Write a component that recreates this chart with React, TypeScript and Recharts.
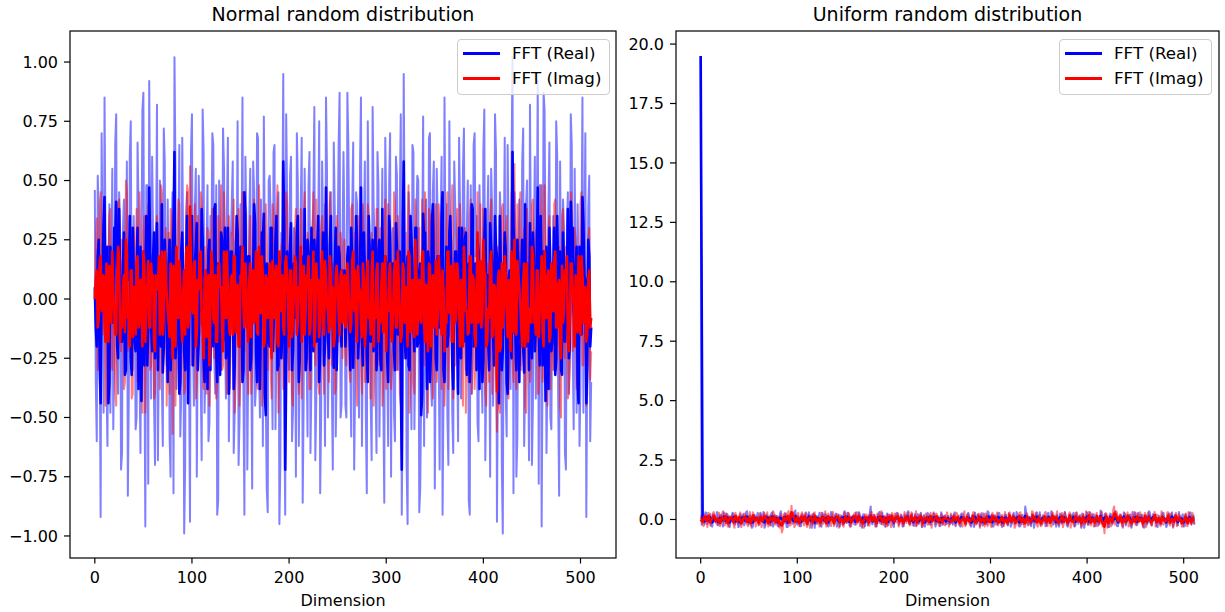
import { LineChart, Line, XAxis, YAxis, Legend } from "recharts";

const FONT = '"DejaVu Sans", sans-serif';

// FFT values, in hundredths.
// *_EVEN: dimensions 0, 2, ..., 510   *_ODD: dimensions 1, 3, ..., 511
const NORMAL_REAL_SAMPLE_EVEN = `
46 -60 38 -92 20 85 -35 12 -48 55 -22 78 -40 30 -65 42 5 -83 60 -18 35 -55 66 -30 15 87 -96 48 92 -42
25 -70 82 -15 40 -62 58 -28 10 -75 45 102 -38 22 -58 68 -99 34 -20 -94 78 -45 55 -12 30 -68 62 -25 48 -52
18 65 -40 -91 50 -30 72 -15 38 -60 25 58 -48 12 -70 40 85 -91 30 -22 55 -80 45 -35 68 -50 20 77 -40 -90
52 -18 62 -55 35 -95 28 95 -91 42 -30 60 -48 15 70 -62 38 -86 55 -20 48 -65 25 81 -42 30 -82 58 -15 85
-50 40 -35 66 -58 22 87 -45 62
-45 87 22 -58 66 -35 40 -50 85 -15 58 -82 30 -42 81 25 -65 48 -20 55 -86 38 -62 70 15 -48 60 -30 42 -91
95 28 -95 35 -55 62 -18 52 -90 -40 77 20 -50 68 -35 45 -80 55 -22 30 -91 85 40 -70 12 -48 58 25 -60 38
-15 72 -30 50 -91 -40 65 18 -52 48 -25 62 -68 30 -12 55 -45 78 -94 -20 34 -99 68 -58 22 -38 102 45 -75 10
-28 58 -62 40 -15 82 -70 25 -42 92 48 -96 87 15 -30 66 -55 35 -18 60 -83 5 42 -65 30 -40 78 -22 55 -48
12 -35 85 20 -92 38 -60`;

const NORMAL_REAL_SAMPLE_ODD = `
-35 52 -18 70 -48 22 -62 40 8 -55 65 -25 45 -72 30 -10 58 -40 75 -30 12 -50 38 -65 80 -20 48 -78 25 60
-45 15 -68 50 -35 72 -12 42 -58 28 -82 55 -22 65 -40 18 -70 45 -28 62 -15 38 -75 52 -32 80 -48 20 -60 35
70 -25 48 -85 30 -10 55 -42 68 -20 40 -65 25 75 -50 15 -38 60 -72 32 -18 58 -45 70 -28 42 -62 20 -80 50
35 -55 65 -22 45 -70 28 -40 78 -15 52 -60 30 -75 48 -25 68 -42 18 -58 62 -35 40 -68 22 75 -48 30 -62 55
-20 45 -72 38 -30 65 -50 25
25 -50 65 -30 38 -72 45 -20 55 -62 30 -48 75 22 -68 40 -35 62 -58 18 -42 68 -25 48 -75 30 -60 52
-15 78 -40 28 -70 45 -22 65 -55 35 50 -80 20 -62 42 -28 70 -45 58 -18 32 -72 60 -38 15 -50 75 25 -65 40
-20 68 -42 55 -10 30 -85 48 -25 70 35 -60 20 -48 80 -32 52 -75 38 -15 62 -28 45 -70 18 -40 65 -22 55 -82
28 -58 42 -12 72 -35 50 -68 15 -45 60 25 -78 48 -20 80 -65 38 -50 12 -30 75 -40 58 -10 30 -72 45 -25 65
-55 8 40 -62 22 -48 70 -18 52 -35`;

const NORMAL_REAL_EVEN = `
5 -20 25 -44 10 43 -15 -44 22 -10 30 41 -25 8 -18 28 -30 15 35 -32 12 -22 30 -8 -43 20 5 -28 47 -12
18 -25 32 10 -20 -31 25 -5 15 -30 20 62 -18 8 -35 28 -22 12 -44 18 35 -15 22 -30 10 38 -25 5 -38 25
15 -20 40 -35 12 28 -18 30 -10 -40 20 8 -28 35 -15 22 -35 45 -8 18 -30 10 40 -22 15 -38 28 36 -49 12
-20 30 -12 25 -30 18 -25 58 -72 20 -15 32 -22 10 28 -35 15 -10 38 -25 20 -30 8 25 -18 35 -22 12 -28 47
-15 22 -8 -29 30 -12 18 -20 10
-20 18 -12 30 -29 -8 22 -15 47 -28 12 -22 35 -18 25 8 -30 20 -25 38 -10 15 -35 28 10 -22 32 -15 20 -72
58 -25 18 -30 25 -12 30 -20 12 -49 36 28 -38 15 -22 40 10 -30 18 -8 45 -35 22 -15 35 -28 8 20 -40 -10
30 -18 28 12 -35 40 -20 15 25 -38 5 -25 38 10 -30 22 -15 35 18 -44 12 -22 28 -35 8 -18 62 20 -30 15
-5 25 -31 -20 10 32 -25 18 -12 47 -28 5 20 -43 -8 30 -22 12 -32 35 15 -30 28 -18 8 -25 41 30 -10 22
-44 -15 43 10 -44 25 -20`;

const NORMAL_REAL_ODD = `
-12 18 -28 8 32 -15 22 -35 12 -5 25 -20 38 -10 15 -32 20 8 -25 30 -18 10 -38 22 5 -28 35 -12 18 -22
28 -8 -30 15 40 -20 10 -35 25 -15 30 -25 12 -40 20 8 -30 35 -10 22 -28 15 32 -18 -5 25 -35 12 20 -30
10 38 -22 15 -32 25 -8 -25 30 -15 20 -38 12 28 -20 5 -30 35 -12 18 -25 10 32 -35 20 -8 25 -40 15 -18
30 -22 8 35 -28 12 -15 28 -32 10 22 -30 15 -8 35 -25 18 -12 -30 25 -15 30 -22 10 20 -35 12 28 -18 8
-25 35 -10 15 -30 22 -8 12
12 -8 22 -30 15 -10 35 -25 8 -18 28 12 -35 20 10 -22 30 -15 25 -30 -12 18 -25 35 -8 15 -30 22
10 -32 28 -15 12 -28 35 8 -22 30 -18 15 -40 25 -8 20 -35 32 10 -25 18 -12 35 -30 5 -20 28 12 -38 20
-15 30 -25 -8 25 -32 15 -22 38 10 -30 20 12 -35 25 -5 -18 32 15 -28 22 -10 35 -30 8 20 -40 12 -25 30
-15 25 -35 10 -20 40 15 -30 -8 28 -22 18 -12 35 -28 5 22 -38 10 -18 30 -25 8 20 -32 15 -10 38 -20 25
-5 12 -35 22 -15 32 8 -28 18 -12`;

const NORMAL_IMAG_SAMPLE_EVEN = `
0 34 -25 45 -15 28 -40 12 38 -30 22 -45 40 -10 25 -38 50 -22 15 -42 30 10 -35 45 -18 28 -48 22 40 -28
12 -40 35 -15 48 -30 18 -45 28 38 -57 25 -12 42 -35 15 -40 30 45 56 -28 22 -42 35 -15 40 -38 10 30 -45
25 -18 40 -35 15 48 -28 22 -40 35 -12 28 -48 18 38 -30 45 -22 12 -40 35 -25 42 -10 -38 28 -45 22 40 -30
15 -42 35 -18 48 -28 22 -38 30 40 -35 12 -45 28 18 -40 38 -15 45 -30 22 -38 28 -12 42 -35 15 35 -40 25
-22 45 -28 12 -38 30 -18 22 0
-22 18 -30 38 -12 28 -45 22 -25 40 -35 -15 35 -42 12 -28 38 -22 30 -45 15 -38 40 -18 -28 45 -12 35
-40 -30 38 -22 28 -48 18 -35 42 -15 30 -40 -22 45 -28 38 10 -42 25 -35 40 -12 22 -45 30 -38 -18 48 -28 12
-35 40 -22 28 -48 -15 35 -40 18 -25 45 -30 -10 38 -40 15 -35 42 -22 28 -56 -45 -30 40 -15 35 -42 12 -25 57
-38 -28 45 -18 30 -48 15 -35 40 -12 28 -40 -22 48 -28 18 -45 35 -10 -30 42 -15 22 -50 38 -25 10 -40 45 -22
30 -38 -12 40 -28 15 -45 25 -34`;

const NORMAL_IMAG_SAMPLE_ODD = `
22 -30 40 -12 28 -45 18 35 -25 10 -38 25 42 -22 12 -35 45 -15 30 -40 15 38 -28 22 -48 35 -10 40 -30 18
-42 28 12 -38 45 -22 30 -15 -40 25 35 -45 18 40 -28 10 -38 48 -22 30 -18 40 -35 12 45 -30 22 -40 28 -12
38 -25 -42 35 15 -30 45 -22 10 -38 28 42 -35 18 -45 25 -12 38 -28 22 -40 30 15 -35 48 -18 28 -42 22 12
-30 40 -22 35 -48 15 25 -38 45 -15 30 -40 18 38 -25 10 -42 35 -18 28 -38 22 45 -28 12 -40 30 -22 40 -10
-35 25 15 -40 35 -18 28 -25
25 -28 18 -35 40 -15 -25 35 10 -40 22 -30 40 -12 28 -45 -22 38 -28 18 -35 42 -10 25 -38 -18 40 -30
15 -45 38 -25 -15 48 -35 22 -40 30 -12 -22 42 -28 18 -48 35 -15 -30 40 -22 28 -38 12 -25 45 -18 35 -42 -28
38 -10 22 -45 30 -15 -35 42 25 -38 12 -28 40 -22 30 -45 -12 35 -40 18 -30 22 -48 38 -10 28 -40 -18 45 -35
-25 40 15 -30 22 -45 38 -12 -28 42 -18 30 -40 10 -35 48 -22 28 -38 -15 40 -30 15 -45 35 -12 22 -42 -25 38
-10 25 -35 -18 45 -28 12 -40 30 -22`;

const NORMAL_IMAG_EVEN = `
0 12 -8 18 5 -10 15 -18 8 20 -5 -15 22 -18 -12 10 25 -8 -20 12 5 -15 18 -10 8 20 -18 5 -12 15
10 -22 8 18 -5 -15 20 2 -10 15 -25 10 22 -8 5 -18 12 20 -12 39 -5 15 -20 8 18 -10 -25 12 5 -28
20 -8 10 -18 15 5 -22 12 20 -10 8 -15 18 -5 -20 10 22 -12 5 -18 15 8 -10 20 -15 3 18 -20 10 -8
15 -25 12 5 -18 20 -5 -12 15 8 -20 12 -10 18 -15 5 22 -8 -15 10 18 -12 5 -20 15 8 -10 20 -15 10
-5 18 -12 -20 10 5 -15 12 0
-12 15 -5 -10 20 12 -18 5 -10 15 -20 10 -8 -15 20 -5 12 -18 -10 15 8 -22 -5 15 -18 10 -12 20 -8 -15
12 5 -20 18 -5 -12 25 -15 8 -10 20 -18 -3 15 -20 10 -8 -15 18 -5 12 -22 -10 20 5 -18 15 -8 10 -20
-12 22 -5 -15 18 -10 8 -20 28 -5 -12 25 10 -18 -8 20 -15 5 -39 12 -20 -12 18 -5 8 -22 -10 25 -15 10
-2 -20 15 5 -18 -8 22 -10 -15 12 -5 18 -20 -8 10 -18 15 -5 20 -12 8 -25 -10 12 18 -22 15 5 -20 -8
18 -15 10 -5 -18 8 -12`;

const NORMAL_IMAG_ODD = `
8 -12 15 -5 10 -18 6 14 -10 3 -15 10 18 -8 5 -14 20 -6 12 -16 5 15 -12 8 -20 14 -3 16 -12 6
-18 10 4 -15 20 -8 12 -5 -16 10 14 -20 6 16 -10 3 -15 22 -8 12 -6 16 -14 4 20 -12 8 -16 10 -4
15 -10 -18 14 5 -12 20 -8 3 -15 10 18 -14 6 -20 10 -4 15 -10 8 -16 12 5 -14 22 -6 10 -18 8 4
-12 16 -8 14 -20 5 10 -15 18 -5 12 -16 6 15 -10 3 -18 14 -6 10 -15 8 20 -10 4 -16 12 -8 16 -3
-14 10 5 -16 14 -6 10 -10
10 -10 6 -14 16 -5 -10 14 3 -16 8 -12 16 -4 10 -20 -8 15 -10 6 -14 18 -3 10 -15 -6 16 -12
5 -18 15 -10 -5 20 -14 8 -16 12 -4 -8 18 -10 6 -22 14 -5 -12 16 -8 10 -15 4 -10 20 -6 14 -18 -10
15 -3 8 -20 12 -5 -14 18 10 -15 4 -10 16 -8 12 -20 -4 14 -16 6 -12 8 -22 15 -3 10 -16 -6 20 -14
-10 16 5 -12 8 -20 15 -4 -10 18 -6 12 -16 3 -14 20 -8 12 -15 -5 16 -12 6 -20 14 -5 8 -18 -10 15
-3 10 -14 -6 18 -10 5 -15 12 -8`;

const UNIFORM_REAL_SAMPLE_EVEN = `
1950 15 -20 28 -10 22 -30 12 5 -25 18 -8 30 -15 20 -32 10 25 -18 8 -28 15 22 -12 35 -20 5 -30 18 10
-22 28 -8 -35 20 12 -25 30 -10 15 -28 22 8 -18 25 -32 12 20 -15 38 -22 5 -28 18 10 -20 30 -12 22 -35
15 8 -25 28 -10 18 -30 12 20 -18 25 -8 -30 15 22 -12 28 -25 10 18 -22 5 30 -15 20 -28 12 8 55 -20
15 -30 22 -10 28 -18 12 -25 20 8 -32 15 25 -12 18 -28 10 30 -20 5 -25 22 12 -18 28 -10 -30 15 20 -22
8 25 -15 10 -28 18 12 -20 15
-20 12 18 -28 10 -15 25 8 -22 20 15 -30 -10 28 -18 12 22 -25 5 -20 30 10 -28 18 -12 25 15 -32 8 20
-25 12 -18 28 -10 22 -30 15 -20 55 8 12 -28 20 -15 30 5 -22 18 10 -25 28 -12 22 15 -30 -8 25 -18 20
12 -30 18 -10 28 -25 8 15 -35 22 -12 30 -20 10 18 -28 5 -22 38 -15 20 12 -32 25 -18 8 22 -28 15 -10
30 -25 12 20 -35 -8 28 -22 10 18 -30 5 -20 35 -12 22 15 -28 8 -18 25 10 -32 20 -15 30 -8 18 -25 5
12 -30 22 -10 28 -20 15`;

const UNIFORM_REAL_SAMPLE_ODD = `
-22 15 30 -18 8 -28 22 -10 32 -15 20 -30 12 25 -22 -8 28 -20 15 -32 22 10 -25 30 -12 18 -35 20 -5 28
-20 12 32 -25 15 -10 25 -30 18 8 -28 35 -15 20 -32 10 25 -18 30 -12 15 -28 22 -8 30 -22 12 -35 25 10
-18 28 -30 15 22 -12 -25 32 -10 18 -30 20 8 -22 35 -15 25 -28 12 -20 30 -12 18 -35 22 10 -25 28 -15 20
-28 15 32 -20 8 -30 25 -12 18 -25 12 28 -22 15 -30 20 -8 35 -18 25 -12 -28 22 10 -32 18 -15 28 -20 12
25 -30 15 -10 30 -22 18 -15
-15 18 -22 30 -10 15 -30 25 12 -20 28 -15 18 -32 10 22 -28 -12 25 -18 35 -8 20 -30 15 -22 28 12
-25 18 -12 25 -30 8 -20 32 15 -28 20 -15 28 -25 10 22 -35 18 -12 30 -20 12 -28 25 -15 35 -22 8 20 -30
18 -10 32 -25 -12 22 15 -30 28 -18 10 25 -35 12 -22 30 -8 22 -28 15 -12 30 -18 25 10 -32 20 -15 35 -28
8 18 -30 25 -10 15 -25 32 12 -20 28 -5 20 -35 18 -12 30 -25 10 22 -32 15 -20 28 -8 -22 25 12 -30 20
-15 32 -10 22 -28 8 -18 30 15 -22`;

const UNIFORM_REAL_EVEN = `
1950 5 -8 10 -3 8 -12 4 2 -10 7 -4 12 -6 8 -12 3 10 -8 2 -10 6 9 -5 12 -8 2 -12 7 3
-9 10 -4 -12 8 5 -10 12 -3 6 -11 8 3 -7 10 -12 5 8 -6 14 -8 2 -10 7 4 -8 12 -5 9 -13
6 3 -10 11 -4 7 -12 5 8 -7 10 -3 -11 6 9 -5 11 -10 4 7 -9 2 12 -6 8 -11 5 3 15 -8
6 -12 9 -4 11 -7 5 -10 8 3 -12 6 10 -5 7 -11 4 12 -8 2 -10 9 5 -7 11 -4 -12 6 8 -9
3 10 -6 4 -11 7 5 -8 6
-8 5 7 -11 4 -6 10 3 -9 8 6 -12 -4 11 -7 5 9 -10 2 -8 12 4 -11 7 -5 10 6 -12 3 8
-10 5 -7 11 -4 9 -12 6 -8 15 3 5 -11 8 -6 12 2 -9 7 4 -10 11 -5 9 6 -11 -3 10 -7 8
5 -12 7 -4 11 -10 3 6 -13 9 -5 12 -8 4 7 -10 2 -8 14 -6 8 5 -12 10 -7 3 8 -11 6 -3
12 -10 5 8 -12 -4 10 -9 3 7 -12 2 -8 12 -5 9 6 -10 2 -8 10 3 -12 8 -6 12 -4 7 -10 2
4 -12 8 -3 10 -8 5`;

const UNIFORM_IMAG_SAMPLE_EVEN = `
0 -18 22 -10 28 -25 12 30 -15 8 -28 20 -5 25 -30 15 10 -22 28 -12 18 -32 8 22 -20 15 -28 30 -8 12
-25 20 -15 28 5 -30 18 -10 25 -22 12 -35 -55 20 -12 28 -25 58 30 -18 15 -28 22 -5 25 -32 10 18 -22 30
-15 8 -25 20 12 -30 25 -10 18 -28 15 22 -18 5 -30 25 -12 20 -25 10 28 -15 22 -8 -30 18 12 -25 30 -10
20 -28 8 25 -18 15 -30 22 -5 28 -20 12 25 -15 8 -28 20 15 -22 30 -10 18 -25 12 22 -30 8 15 -20 28
-12 5 25 -18 10 -22 15 8 0
-8 -15 22 -10 18 -25 -5 12 -28 20 -15 -8 30 -22 -12 25 -18 10 -30 22 -15 -20 28 -8 15 -25 -12 20 -28 5
-22 30 -15 18 -25 -8 28 -20 10 -30 25 -12 -18 30 8 -22 15 -28 -10 25 -20 12 -25 30 -5 18 -22 -15 28 -18
10 -25 30 -12 -20 25 -8 15 -30 22 -18 -10 32 -25 5 -22 28 -15 18 -30 -58 25 -28 12 -20 55 35 -12 22 -25
10 -18 30 -5 -28 15 -20 25 -12 8 -30 28 -15 20 -22 -8 32 -18 12 -28 22 -10 -15 30 -25 5 -20 28 -8 15
-30 -12 25 -28 10 -22 18`;

const UNIFORM_IMAG_SAMPLE_ODD = `
20 -28 12 -32 25 -15 30 -8 -22 28 -12 35 -25 18 -30 10 22 -35 15 -20 30 -18 25 -10 -28 32 -15 20 -30 12
25 -32 18 -22 30 -12 -25 35 -20 15 -30 22 -40 28 -18 35 -25 12 -32 20 28 -15 30 -25 -10 22 -35 18 25 -20
12 -30 28 -18 35 -22 10 -28 32 -15 22 -35 18 -25 30 -12 28 -32 15 25 -20 30 -28 12 -35 22 18 -25 32 -10
-30 25 -15 35 -22 12 -28 20 -32 18 25 -12 -30 22 -20 32 -15 28 -25 10 -28 35 -18 22 -30 15 25 -22 12 -35
30 -20 18 -28 22 -12 -25 30
-30 25 12 -22 28 -18 20 -30 35 -12 22 -25 -15 30 -22 18 -35 28 -10 25 -28 15 -32 20 -22 30 12 -25
-18 32 -20 28 -12 22 -35 15 -25 30 10 -32 25 -18 -22 35 -12 28 -30 20 -25 -15 32 -28 12 -30 25 -18 35 -22
15 -32 28 -10 22 -35 18 -28 30 -12 20 -25 -18 35 -22 10 25 -30 15 -28 -20 32 -12 25 -35 18 -28 40 -22 30
-15 20 -35 25 12 -30 22 -18 32 -25 -12 30 -20 15 -32 28 10 -25 18 -30 20 -15 35 -22 -10 30 -18 25 -35 12
-28 22 8 -30 15 -25 32 -12 28 -20`;

const UNIFORM_IMAG_EVEN = `
0 -10 12 -5 15 -12 6 16 -8 4 -15 10 -3 13 -16 8 5 -12 15 -6 10 -17 4 12 -10 8 -15 16 -4 6
-13 10 -8 15 3 -16 10 -5 13 -12 6 -18 -25 10 -6 15 -13 30 16 -10 8 -15 12 -3 13 -17 5 10 -12 16
-8 4 -13 10 6 -16 13 -5 10 -15 8 12 -10 3 -16 13 -6 10 -13 5 15 -8 12 -4 -16 10 6 -13 16 -5
10 -15 4 13 -10 8 -16 12 -3 15 -10 6 13 -8 4 -15 10 8 -12 16 -5 10 -13 6 12 -16 4 8 -10 15
-6 3 13 -10 5 -12 8 4 0
-4 -8 12 -5 10 -13 -3 6 -15 10 -8 -4 16 -12 -6 13 -10 5 -16 12 -8 -10 15 -4 8 -13 -6 10 -15 3
-12 16 -8 10 -13 -4 15 -10 5 -16 13 -6 -10 16 4 -12 8 -15 -5 13 -10 6 -13 16 -3 10 -12 -8 15 -10
5 -13 16 -6 -10 13 -4 8 -16 12 -10 -5 17 -13 3 -12 15 -8 10 -16 -30 13 -15 6 -10 25 18 -6 12 -13
5 -10 16 -3 -15 8 -10 13 -6 4 -16 15 -8 10 -12 -4 17 -10 6 -15 12 -5 -8 16 -13 3 -10 15 -4 8
-16 -6 12 -15 5 -12 10`;

const X_TICKS = [0, 100, 200, 300, 400, 500];
const NORMAL_Y_TICKS = [-1, -0.75, -0.5, -0.25, 0, 0.25, 0.5, 0.75, 1];
const UNIFORM_Y_TICKS = [0, 2.5, 5, 7.5, 10, 12.5, 15, 17.5, 20];
const LEGEND_ORDER = ["FFT (Real)", "FFT (Imag)"];

const hundredths = (s: string) => s.trim().split(/\s+/).map((v) => Number(v) / 100);

// realSample, imagSample, real, imag
type Series = [string, string, string, string];
type MaybeSeries = [string | null, string | null, string | null, string | null];

function buildRows(even: Series, odd?: MaybeSeries) {
  const ev = even.map(hundredths);
  const od = odd ? odd.map((s) => (s ? hundredths(s) : null)) : null;
  const rows: any[] = [];
  ev[0].forEach((_, i) => {
    rows.push({ dim: i * 2, realSample: ev[0][i], imagSample: ev[1][i], real: ev[2][i], imag: ev[3][i] });
    if (od) {
      rows.push({
        dim: i * 2 + 1,
        realSample: od[0]?.[i],
        imagSample: od[1]?.[i],
        real: od[2]?.[i],
        imag: od[3]?.[i],
      });
    }
  });
  return rows;
}

const normalRows = buildRows(
  [NORMAL_REAL_SAMPLE_EVEN, NORMAL_IMAG_SAMPLE_EVEN, NORMAL_REAL_EVEN, NORMAL_IMAG_EVEN],
  [NORMAL_REAL_SAMPLE_ODD, NORMAL_IMAG_SAMPLE_ODD, NORMAL_REAL_ODD, NORMAL_IMAG_ODD]
);
const uniformRows = buildRows(
  [UNIFORM_REAL_SAMPLE_EVEN, UNIFORM_IMAG_SAMPLE_EVEN, UNIFORM_REAL_EVEN, UNIFORM_IMAG_EVEN],
  [UNIFORM_REAL_SAMPLE_ODD, UNIFORM_IMAG_SAMPLE_ODD, null, null]
);

const minus = (s: string) => s.replace("-", "\u2212");

function LegendBox({ payload }: any) {
  const items = (payload || [])
    .filter((p: any) => LEGEND_ORDER.includes(p.value))
    .sort((a: any, b: any) => LEGEND_ORDER.indexOf(a.value) - LEGEND_ORDER.indexOf(b.value));
  return (
    <div
      style={{
        width: 153,
        height: 56,
        boxSizing: "border-box",
        background: "rgba(255,255,255,0.8)",
        border: "1px solid #cccccc",
        borderRadius: 4,
        padding: "1px 0 0 5px",
        fontFamily: FONT,
        fontSize: 16.7,
        color: "#000",
      }}
    >
      {items.map((p: any) => (
        <div key={p.value} style={{ display: "flex", alignItems: "center", height: 25 }}>
          <span style={{ display: "inline-block", width: 37, height: 2.4, background: p.color, marginRight: 12 }} />
          <span style={{ lineHeight: 1, whiteSpace: "nowrap" }}>{p.value}</span>
        </div>
      ))}
    </div>
  );
}

interface PanelProps {
  left: number;
  width: number;
  data: any[];
  yDomain: [number, number];
  yTicks: number[];
  digits: number;
  legendLeft: number;
  lightWidth: number;
  darkWidth: number;
}

function Panel({ left, width, data, yDomain, yTicks, digits, legendLeft, lightWidth, darkWidth }: PanelProps) {
  const tick = { fill: "#000", fontSize: 16, fontFamily: FONT };
  return (
    <div style={{ position: "absolute", left, top: 0 }}>
      <LineChart width={width} height={612} data={data} margin={{ top: 31, right: 6, bottom: 0, left: 0 }}>
        <XAxis
          dataKey="dim"
          type="number"
          domain={[-25.55, 536.55]}
          ticks={X_TICKS}
          allowDataOverflow
          height={54}
          axisLine={false}
          tickLine={{ stroke: "#000", strokeWidth: 1.2 }}
          tickSize={5.5}
          tickMargin={8}
          tick={tick}
        />
        <YAxis
          type="number"
          domain={yDomain}
          ticks={yTicks}
          allowDataOverflow
          width={70}
          axisLine={false}
          tickLine={{ stroke: "#000", strokeWidth: 1.2 }}
          tickSize={6}
          tickMargin={6}
          tick={tick}
          tickFormatter={(v: number) => minus(v.toFixed(digits))}
        />
        <Legend
          content={<LegendBox />}
          layout="vertical"
          align="center"
          verticalAlign="middle"
          wrapperStyle={{ top: 39, left: legendLeft, width: 153, height: 56 }}
        />
        <Line dataKey="realSample" name="realSample" legendType="none" stroke="#0000ff" strokeOpacity={0.5}
          strokeWidth={lightWidth} strokeLinejoin="round" connectNulls dot={false} activeDot={false} isAnimationActive={false} />
        <Line dataKey="imagSample" name="imagSample" legendType="none" stroke="#ff0000" strokeOpacity={0.5}
          strokeWidth={lightWidth} strokeLinejoin="round" connectNulls dot={false} activeDot={false} isAnimationActive={false} />
        <Line dataKey="real" name="FFT (Real)" stroke="#0000ff" strokeWidth={darkWidth} strokeLinejoin="round"
          connectNulls dot={false} activeDot={false} isAnimationActive={false} />
        <Line dataKey="imag" name="FFT (Imag)" stroke="#ff0000" strokeWidth={darkWidth} strokeLinejoin="round"
          connectNulls dot={false} activeDot={false} isAnimationActive={false} />
      </LineChart>
    </div>
  );
}

export default function App() {
  return (
    <div style={{ position: "fixed", left: 0, top: 0, width: 1225, height: 612, background: "#fff", overflow: "hidden" }}>
      <Panel left={0} width={622} data={normalRows} yDomain={[-1.093, 1.131]} yTicks={NORMAL_Y_TICKS} digits={2}
        legendLeft={457} lightWidth={2} darkWidth={2.6} />
      <Panel left={606} width={619} data={uniformRows} yDomain={[-1.62, 20.55]} yTicks={UNIFORM_Y_TICKS} digits={1}
        legendLeft={453} lightWidth={2} darkWidth={2.6} />
      <svg width={1225} height={612} style={{ position: "absolute", left: 0, top: 0, pointerEvents: "none" }}>
        <rect x={70} y={31} width={546} height={527} fill="none" stroke="#000" strokeWidth={1.2} />
        <rect x={676} y={31} width={543} height={527} fill="none" stroke="#000" strokeWidth={1.2} />
        <g fontFamily={FONT} fill="#000" textAnchor="middle">
          <text x={343} y={21} fontSize={19}>Normal random distribution</text>
          <text x={947.5} y={21} fontSize={19}>Uniform random distribution</text>
          <text x={343} y={606} fontSize={16}>Dimension</text>
          <text x={947.5} y={606} fontSize={16}>Dimension</text>
        </g>
      </svg>
    </div>
  );
}
